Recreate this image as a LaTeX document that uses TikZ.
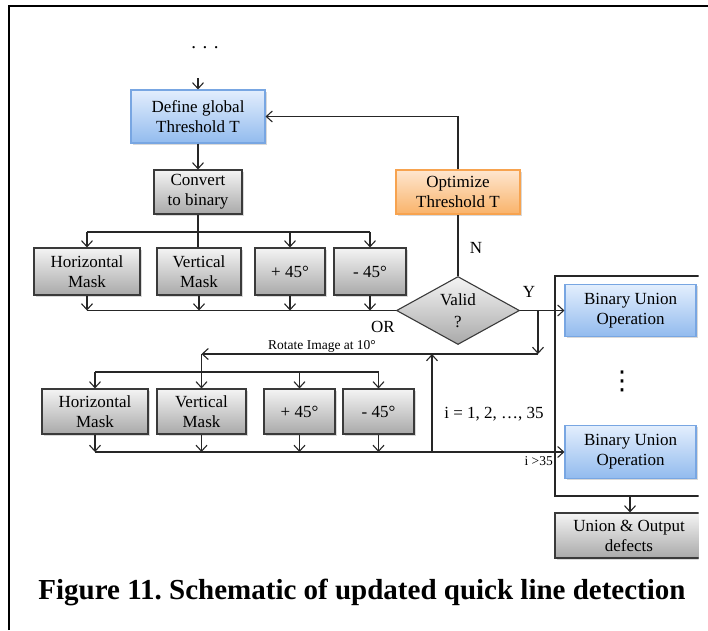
\documentclass[tikz,border=0pt]{standalone}
\usepackage{fontspec}
\setmainfont{Liberation Serif}
\newfontfamily\symfont{DejaVu Sans}
\usetikzlibrary{arrows.meta,shapes.geometric,shadows}
\definecolor{bluetop}{HTML}{E3EEFD}
\definecolor{bluebot}{HTML}{92BBEE}
\definecolor{blueedge}{HTML}{78A6E2}
\definecolor{orangetop}{HTML}{FEE6CF}
\definecolor{orangebot}{HTML}{F9B36A}
\definecolor{orangeedge}{HTML}{F7A34F}
\definecolor{graytop}{HTML}{F4F4F4}
\definecolor{graybot}{HTML}{A9A9A9}
\definecolor{grayedge}{HTML}{3A3A3A}
\definecolor{linecol}{HTML}{262626}
\frenchspacing
\begin{document}
\begin{tikzpicture}[x=1pt,y=-1pt,
 ln/.style={draw=linecol, line width=1.1pt},
 arr/.style={ln, -{Straight Barb[length=6pt,width=11pt,line width=1.1pt]}},
 basebox/.style={rectangle, align=center, inner sep=0pt, font=\fontsize{17}{20}\selectfont, line width=1.1pt,
   drop shadow={shadow xshift=1.5pt,shadow yshift=-1.5pt,opacity=0.3}},
 graybox/.style={basebox, draw=grayedge, top color=graytop, bottom color=graybot},
 bluebox/.style={basebox, draw=blueedge, top color=bluetop, bottom color=bluebot},
 orangebox/.style={basebox, draw=orangeedge, top color=orangetop, bottom color=orangebot},
 diam/.style={diamond, draw=grayedge, line width=1.1pt, top color=graytop, bottom color=graybot, inner sep=0pt},
 lbl/.style={font=\fontsize{17}{20}\selectfont, inner sep=0pt, align=center},
 smalllbl/.style={font=\fontsize{13.5}{16}\selectfont, inner sep=0pt}
]
\useasboundingbox (0,0) rectangle (708,630);
% outer frame
\coordinate (fa) at (9,630);
\coordinate (fb) at (9,6);
\coordinate (fc) at (708,6);
\draw[draw=black, line width=1.5pt] (fa) -- (fb) -- (fc);

\begin{scope}
\clip (0,0) rectangle (698.5,630);
% nodes
\node[lbl, font=\fontsize{19}{20}\selectfont] (dots) at (205,48) {.\hspace{6.5pt}.\hspace{6.5pt}.};
\coordinate (start) at (198,78);
\node[bluebox, minimum width=134pt, minimum height=53pt] (def) at (198,116.5) {Define global\\Threshold T};
\node[graybox, minimum width=88pt, minimum height=44pt] (conv) at (198,192) {Convert\\to binary};

\node[graybox, minimum width=106pt, minimum height=47pt] (h1) at (87,271.5) {Horizontal\\Mask};
\node[graybox, minimum width=84pt, minimum height=47pt] (v1) at (199,271.5) {Vertical\\Mask};
\node[graybox, minimum width=70pt, minimum height=47pt] (p1) at (290,271.5) {+ 45°};
\node[graybox, minimum width=72pt, minimum height=47pt] (m1) at (370,271.5) {- 45°};

\node[orangebox, minimum width=124pt, minimum height=44pt] (opt) at (458,192) {Optimize\\Threshold T};
\node[diam, minimum width=123pt, minimum height=68pt,
  label={[lbl]center:Valid\\[2pt]?}] (valid) at (458,310.5) {};

\node[graybox, minimum width=106pt, minimum height=45pt] (h2) at (95,411.5) {Horizontal\\Mask};
\node[graybox, minimum width=89pt, minimum height=45pt] (v2) at (201.5,411.5) {Vertical\\Mask};
\node[graybox, minimum width=71pt, minimum height=45pt] (p2) at (299.5,411.5) {+ 45°};
\node[graybox, minimum width=71pt, minimum height=45pt] (m2) at (378.5,411.5) {- 45°};

\node[bluebox, minimum width=131pt, minimum height=52pt] (bu1) at (630.5,310.5) {Binary Union\\Operation};
\node[bluebox, minimum width=131pt, minimum height=53pt] (bu2) at (630.5,452) {Binary Union\\Operation};
\node[graybox, minimum width=148pt, minimum height=45pt] (un) at (629,535.5) {Union \& Output\\defects};
\node[font=\symfont\fontsize{26}{28}\selectfont, inner sep=0pt] (vd) at (622,381) {⋮};

% labels
\node[lbl] (lN) at (476,248) {N};
\node[lbl] (lY) at (529,292) {Y};
\node[lbl] (lOR) at (383,327) {OR};
\node[smalllbl] (lrot) at (322,346) {Rotate Image at 10°};
\node[lbl] (li) at (494,414) {i = 1, 2, …, 35};
\node[smalllbl, anchor=east] (lgt) at (553,461) {i >35};

% coordinates
\coordinate (bus1) at (0,232);
\coordinate (br) at (538,310.5);
\coordinate (rot) at (538,354);
\coordinate (bus3) at (0,372);
\coordinate (bus4) at (0,452);
\coordinate (lp) at (432,452);
\coordinate (bra) at (698.5,276);
\coordinate (brb) at (555,276);
\coordinate (brc) at (555,496);
\coordinate (brd) at (698.5,496);
\coordinate (brm) at (630,496);

% connectors
\draw[arr] (start) -- (def.north);
\draw[arr] (def.south) -- (conv.north);
\draw[ln] (conv.south) -- (conv.south |- v1.north);
\draw[ln] (h1.north |- bus1) -- (m1.north |- bus1);
\draw[arr] (h1.north |- bus1) -- (h1.north);
\draw[arr] (p1.north |- bus1) -- (p1.north);
\draw[arr] (m1.north |- bus1) -- (m1.north);

\draw[arr] (h1.south) -- (h1.south |- valid.west);
\draw[arr] (v1.south) -- (v1.south |- valid.west);
\draw[arr] (p1.south) -- (p1.south |- valid.west);
\draw[arr] (m1.south) -- (m1.south |- valid.west);
\draw[ln] (h1.south |- valid.west) -- (valid.west);

\draw[ln] (valid.north) -- (opt.south);
\draw[arr] (opt.north) -- (opt.north |- def.east) -- (def.east);

\draw[arr] (valid.east) -- (bu1.west);
\draw[arr] (br) -- (rot);
\draw[arr] (rot) -- (v2.north |- rot);
\draw[arr] (v2.north |- rot) -- (v2.north);

\draw[ln] (h2.north |- bus3) -- (m2.north |- bus3);
\draw[arr] (h2.north |- bus3) -- (h2.north);
\draw[arr] (p2.north |- bus3) -- (p2.north);
\draw[arr] (m2.north |- bus3) -- (m2.north);

\draw[arr] (h2.south) -- (h2.south |- bus4);
\draw[arr] (v2.south) -- (v2.south |- bus4);
\draw[arr] (p2.south) -- (p2.south |- bus4);
\draw[arr] (m2.south) -- (m2.south |- bus4);
\draw[arr] (h2.south |- bus4) -- (bu2.west);
\draw[arr] (lp) -- (lp |- rot);

\draw[ln] (bra) -- (brb) -- (brc) -- (brd);
\draw[arr] (brm) -- (brm |- un.north);
\end{scope}

\node[font=\bfseries\fontsize{29}{32}\selectfont, inner sep=0pt] (cap) at (362,592) {Figure 11. Schematic of updated quick line detection};
\end{tikzpicture}
\end{document}
